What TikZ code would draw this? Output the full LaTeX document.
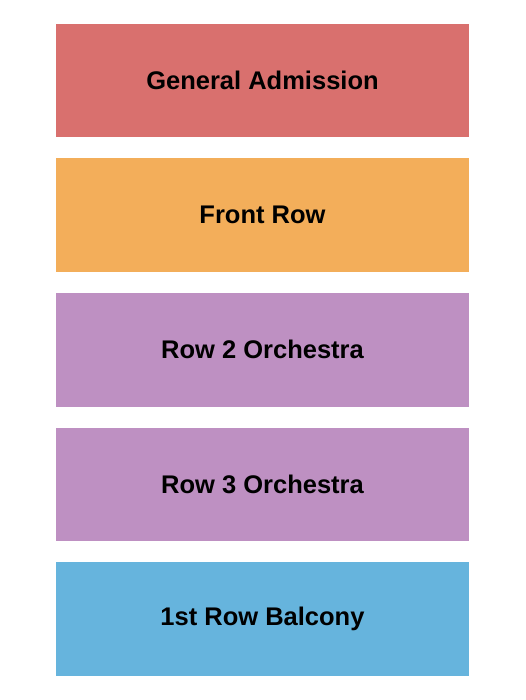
\documentclass[tikz,border=0pt]{standalone}
\usepackage{fontspec}
\setmainfont{Liberation Sans}
\usepackage{tikz}
\usetikzlibrary{positioning}
\definecolor{gacol}{HTML}{D9706E}
\definecolor{frontcol}{HTML}{F3AE5A}
\definecolor{orchcol}{HTML}{BE90C2}
\definecolor{balccol}{HTML}{66B4DD}
\tikzset{%
	section/.style={rectangle, minimum width=413pt, minimum height=113.5pt,%
		inner sep=0pt, outer sep=0pt, node distance=21pt,%
		font=\fontsize{25.5}{30}\selectfont\bfseries},
	ga/.style={fill=gacol},
	front/.style={fill=frontcol},
	orch/.style={fill=orchcol},
	balc/.style={fill=balccol}
}

\begin{document}
\begin{tikzpicture}[x=1pt, y=1pt]
  \useasboundingbox (0,0) rectangle (525,-700);
  \node[section, ga, anchor=north west] (general) at (56,-24) {General Admission};
  \node[section, front, below=of general] (front) {Front Row};
  \node[section, orch, below=of front] (row2) {Row 2 Orchestra};
  \node[section, orch, below=of row2] (row3) {Row 3 Orchestra};
  \node[section, balc, below=of row3] (balcony) {1st Row Balcony};
\end{tikzpicture}
\end{document}
